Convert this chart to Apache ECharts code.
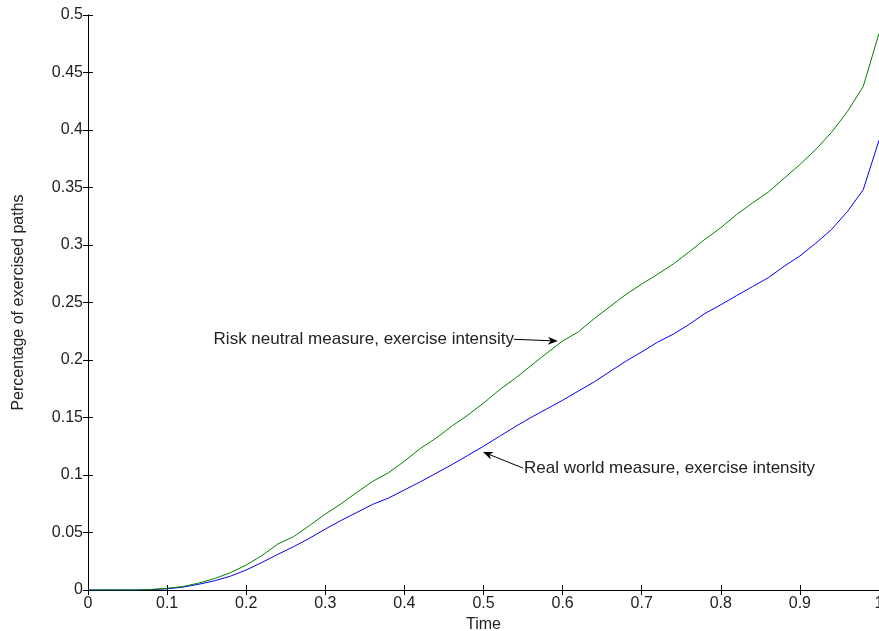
<!DOCTYPE html>
<html><head><meta charset="utf-8">
<script src="https://cdn.jsdelivr.net/npm/echarts@6/dist/echarts.min.js"></script>
<style>html,body{margin:0;padding:0;background:#fff}#c{width:879px;height:631px}</style>
</head><body><div id="c"></div>
<script>
const times = [0,0.02,0.04,0.06,0.08,0.10,0.12,0.14,0.16,0.18,0.20,0.22,0.24,0.26,0.28,0.30,0.32,0.34,0.36,0.38,0.40,0.42,0.44,0.46,0.48,0.50,0.52,0.54,0.56,0.58,0.60,0.62,0.64,0.66,0.68,0.70,0.72,0.74,0.76,0.78,0.80,0.82,0.84,0.86,0.88,0.90,0.92,0.94,0.96,0.98,1.00];
const riskNeutral = [0,0,0,0,0.0005,0.0015,0.003,0.006,0.010,0.015,0.0217,0.030,0.040,0.0464,0.056,0.066,0.075,0.085,0.0945,0.102,0.112,0.123,0.132,0.1425,0.152,0.1625,0.174,0.184,0.195,0.206,0.2165,0.2245,0.236,0.2465,0.257,0.266,0.2745,0.2835,0.294,0.305,0.315,0.3265,0.3365,0.346,0.358,0.370,0.383,0.398,0.416,0.4377,0.484];
const realWorld = [0,0,0,0,0.0003,0.001,0.0025,0.005,0.008,0.012,0.0174,0.024,0.031,0.0377,0.045,0.053,0.0605,0.0675,0.0745,0.080,0.087,0.094,0.1015,0.109,0.117,0.125,0.1335,0.142,0.150,0.1575,0.165,0.173,0.181,0.190,0.199,0.207,0.2155,0.2225,0.231,0.2405,0.248,0.256,0.2638,0.2715,0.2815,0.2905,0.3015,0.3135,0.329,0.348,0.391];
const xTicks = [0,0.1,0.2,0.3,0.4,0.5,0.6,0.7,0.8,0.9,1];
const yTicks = [0,0.05,0.1,0.15,0.2,0.25,0.3,0.35,0.4,0.45,0.5];
const annRisk = {text:'Risk neutral measure, exercise intensity', from:[0.5386,0.218], to:[0.594,0.2165]};
const annReal = {text:'Real world measure, exercise intensity', from:[0.55,0.106], to:[0.4994,0.12]};

const FONT = 'Liberation Sans, Arial, Helvetica, sans-serif';
const TXT = '#222';
const chart = echarts.init(document.getElementById('c'), null, {renderer:'canvas'});
const axLine = {show:true, lineStyle:{color:'#000', width:1}};
const tick = {show:true, inside:true, length:5, lineStyle:{color:'#000'}};
const zip = (a,b)=>a.map((v,i)=>[v,b[i]]);
chart.setOption({
  animation:false,
  grid:{left:88, right:0, top:15, bottom:41, containLabel:false, outerBoundsMode:'none'},
  xAxis:[
    {type:'value', min:0, max:1, interval:0.1, axisLine:axLine, axisTick:tick, splitLine:{show:false},
     axisLabel:{color:TXT, fontFamily:FONT, fontSize:16, margin:6, formatter:v=>String(+v.toFixed(2)), showMaxLabel:true},
     name:'Time', nameLocation:'middle', nameGap:24, nameTextStyle:{color:TXT, fontFamily:FONT, fontSize:16}},
    {type:'value', position:'top', min:0, max:1, interval:0.1, axisLine:axLine, axisTick:tick, axisLabel:{show:false}, splitLine:{show:false}}
  ],
  yAxis:[
    {type:'value', min:0, max:0.5, interval:0.05, axisLine:axLine, axisTick:tick, splitLine:{show:false},
     axisLabel:{color:TXT, fontFamily:FONT, fontSize:16, margin:5, formatter:v=>String(+v.toFixed(2))},
     name:'Percentage of exercised paths', nameLocation:'middle', nameGap:61, nameRotate:90,
     nameTextStyle:{color:TXT, fontFamily:FONT, fontSize:16}},
    {type:'value', position:'right', min:0, max:0.5, interval:0.05, axisLine:axLine, axisTick:tick, axisLabel:{show:false}, splitLine:{show:false}}
  ],
  series:[
    {type:'line', name:'Real world', data:zip(times, realWorld), showSymbol:false, lineStyle:{color:'#0000ff', width:1}, itemStyle:{color:'#0000ff'}},
    {type:'line', name:'Risk neutral', data:zip(times, riskNeutral), showSymbol:false, lineStyle:{color:'#008000', width:1}, itemStyle:{color:'#008000'}}
  ]
});

function arrow(a, alignRight){
  const p0 = chart.convertToPixel({gridIndex:0}, a.from);
  const p1 = chart.convertToPixel({gridIndex:0}, a.to);
  const ang = Math.atan2(p1[1]-p0[1], p1[0]-p0[0]);
  const L = 10, W = 4;
  const bx = p1[0]-L*Math.cos(ang), by = p1[1]-L*Math.sin(ang);
  const nx = -Math.sin(ang)*W, ny = Math.cos(ang)*W;
  const cx = bx+(p1[0]-bx)*0.3, cy = by+(p1[1]-by)*0.3;
  return [
    {type:'line', shape:{x1:p0[0], y1:p0[1], x2:cx, y2:cy}, style:{stroke:'#000', lineWidth:1}},
    {type:'polygon', shape:{points:[[p1[0],p1[1]],[bx+nx,by+ny],[cx,cy],[bx-nx,by-ny]]}, style:{fill:'#000'}},
    {type:'text', x: alignRight ? p0[0] : p0[0]+1, y:p0[1],
     style:{text:a.text, fill:TXT, font:'17px '+FONT, align: alignRight?'right':'left', verticalAlign:'middle'}}
  ];
}
chart.setOption({graphic:{elements:[...arrow(annRisk,true), ...arrow(annReal,false)]}});
</script></body></html>
